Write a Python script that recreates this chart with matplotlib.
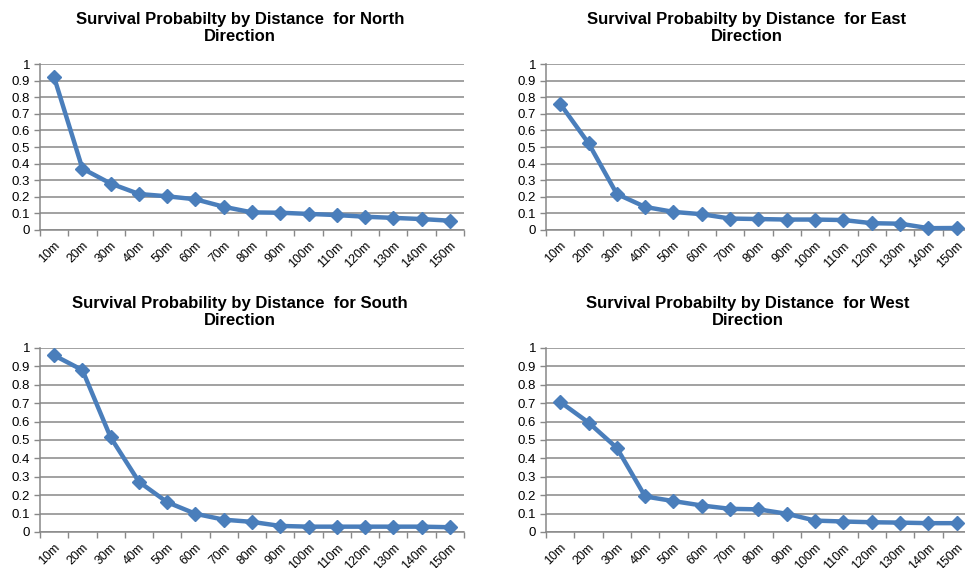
import matplotlib
matplotlib.use("Agg")
import matplotlib.pyplot as plt
import numpy as np

plt.rcParams['font.family'] = ['Liberation Sans', 'DejaVu Sans']

distances = ["10m", "20m", "30m", "40m", "50m", "60m", "70m", "80m",
             "90m", "100m", "110m", "120m", "130m", "140m", "150m"]

north = [0.92, 0.37, 0.28, 0.217, 0.203, 0.185, 0.14, 0.106, 0.104,
         0.097, 0.09, 0.08, 0.073, 0.066, 0.056]
east = [0.76, 0.523, 0.217, 0.139, 0.109, 0.095, 0.069, 0.066, 0.063,
        0.063, 0.06, 0.041, 0.038, 0.011, 0.012]
south = [0.96, 0.88, 0.514, 0.273, 0.162, 0.099, 0.067, 0.055, 0.033,
         0.029, 0.029, 0.029, 0.029, 0.029, 0.026]
west = [0.707, 0.595, 0.457, 0.193, 0.168, 0.144, 0.126, 0.123, 0.099,
        0.062, 0.057, 0.053, 0.051, 0.048, 0.048]

titles = ["Survival Probabilty by Distance  for North\nDirection",
          "Survival Probabilty by Distance  for East\nDirection",
          "Survival Probability by Distance  for South\nDirection",
          "Survival Probabilty by Distance  for West\nDirection"]

W, H = 965, 568
fig = plt.figure(figsize=(W / 100, H / 100), dpi=100)

# (left, top, right, bottom) in pixels, title centre (x, y)
panels = [
    (north, titles[0], (40, 64, 464, 230), (240, 28)),
    (east, titles[1], (546, 64, 971, 230), (747, 28)),
    (south, titles[2], (40, 348, 464, 532), (240, 312)),
    (west, titles[3], (546, 348, 971, 532), (748, 312)),
]

blue = "#4a7ebb"
grey = "#888888"
x = np.arange(len(distances))

for vals, title, (l, t, r, b), (tx, ty) in panels:
    ax = fig.add_axes([l / W, 1 - b / H, (r - l) / W, (b - t) / H])
    ax.plot(x, vals, color=blue, lw=3.2, marker="D", ms=7.5,
            markeredgecolor=blue, zorder=3, clip_on=False)
    ax.set_xlim(-0.5, len(distances) - 0.5)
    ax.set_ylim(0, 1)
    ax.set_yticks(np.arange(0, 1.01, 0.1))
    ax.set_yticklabels(["0"] + [f"{v:.1f}" for v in np.arange(0.1, 0.95, 0.1)] + ["1"])
    ax.grid(axis="y", color=grey, lw=1.1)
    ax.set_axisbelow(True)

    ax.set_xticks(np.arange(-0.5, len(distances)), minor=False)
    ax.set_xticklabels([])
    ax.set_xticks(x, minor=True)
    ax.set_xticklabels(distances, minor=True, rotation=45, ha="right",
                       va="top", rotation_mode="anchor", fontsize=9)
    ax.tick_params(axis="x", which="minor", length=0, pad=7)
    ax.tick_params(axis="x", which="major", length=4, color=grey, width=1)
    ax.tick_params(axis="y", length=4, color=grey, width=1, labelsize=9.5, pad=3)

    for s in ("top", "right"):
        ax.spines[s].set_visible(False)
    for s in ("left", "bottom"):
        ax.spines[s].set_color(grey)
        ax.spines[s].set_linewidth(1.1)

    fig.text(tx / W, 1 - ty / H, title, ha="center", va="center",
             fontsize=12, fontweight="bold", linespacing=1.2)

fig.savefig("out.png", dpi=100)
